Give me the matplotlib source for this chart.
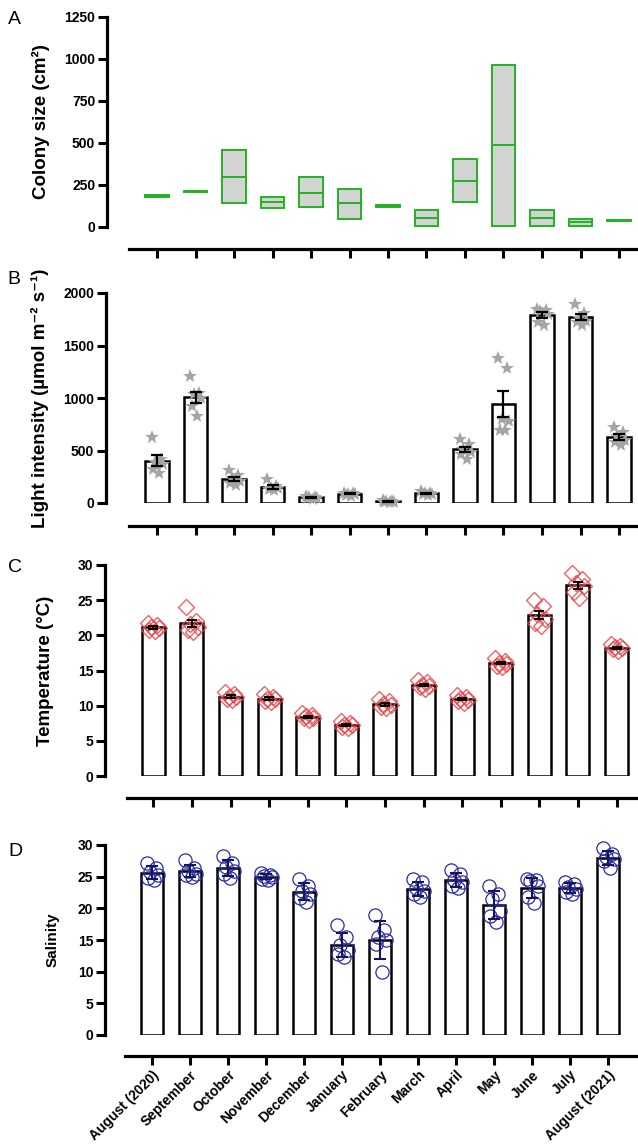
import numpy as np
import matplotlib.pyplot as plt

# months on the x axis
months = ['August (2020)', 'September', 'October', 'November', 'December',
          'January', 'February', 'March', 'April', 'May', 'June', 'July',
          'August (2021)']

# A: colony size, floating bars (min to max, line at mean)
size_min = [180, 209, 140, 115, 117, 45, 118, 8, 147, 8, 8, 8, 36]
size_mid = [184, 212, 299, 147, 204, 143, 125, 52, 274, 490, 52, 30, 40]
size_max = [188, 215, 460, 177, 295, 228, 132, 101, 403, 965, 101, 48, 44]

# B: light intensity (umol m-2 s-1), replicate readings
light = [
    [630, 420, 395, 370, 320, 285],
    [1210, 1050, 1040, 1000, 920, 830],
    [310, 265, 240, 210, 190, 175],
    [230, 160, 145, 140, 130, 120],
    [70, 60, 55, 50, 45, 40],
    [100, 95, 90, 85, 75, 70],
    [25, 20, 15, 12, 10, 8],
    [110, 100, 95, 90, 85, 75],
    [610, 560, 510, 490, 470, 420],
    [1380, 1290, 800, 780, 700, 700],
    [1850, 1840, 1830, 1800, 1720, 1700],
    [1900, 1810, 1760, 1730, 1720, 1700],
    [720, 680, 640, 600, 580, 550],
]

# C: temperature (deg C)
temp = [
    [21.8, 21.4, 21.2, 21.0, 20.8, 20.6],
    [24.0, 22.0, 21.6, 21.2, 20.8, 20.5],
    [11.9, 11.6, 11.3, 11.2, 11.0, 10.8],
    [11.6, 11.3, 11.0, 10.9, 10.7, 10.5],
    [9.0, 8.7, 8.5, 8.3, 8.2, 8.0],
    [7.8, 7.5, 7.3, 7.2, 7.0, 6.8],
    [11.0, 10.6, 10.3, 10.1, 9.8, 9.6],
    [13.6, 13.3, 13.0, 12.8, 12.6, 12.4],
    [11.5, 11.2, 11.0, 10.8, 10.6, 10.4],
    [16.8, 16.4, 16.1, 15.9, 15.7, 15.5],
    [25.0, 24.2, 23.0, 22.3, 21.8, 21.3],
    [28.8, 28.0, 27.5, 27.0, 26.2, 25.3],
    [18.8, 18.5, 18.3, 18.2, 18.0, 17.8],
]

# D: salinity
sal = [
    [27.2, 26.3, 25.8, 25.2, 24.8, 24.5],
    [27.6, 26.4, 25.9, 25.5, 25.3, 25.0],
    [28.2, 27.2, 26.5, 25.9, 25.4, 24.8],
    [25.6, 25.3, 25.1, 24.9, 24.7, 24.5],
    [24.6, 23.6, 22.8, 22.2, 21.6, 21.0],
    [17.4, 15.4, 14.2, 13.4, 12.8, 12.3],
    [18.9, 16.6, 15.5, 15.0, 14.4, 9.9],
    [24.6, 24.1, 23.2, 22.7, 22.2, 21.8],
    [26.0, 25.4, 24.5, 24.1, 23.6, 23.2],
    [23.6, 22.2, 21.4, 19.6, 18.8, 17.8],
    [24.6, 24.4, 24.3, 23.6, 21.8, 20.8],
    [24.2, 23.8, 23.4, 23.0, 22.6, 22.2],
    [29.6, 28.6, 28.1, 27.8, 27.4, 26.3],
]

W, H = 638, 1144
plt.rcParams['font.family'] = ['Liberation Sans', 'DejaVu Sans']
plt.rcParams['font.weight'] = 'bold'

fig = plt.figure(figsize=(W / 100, H / 100), dpi=100)
x = np.arange(len(months))
jit = np.array([-0.14, 0.10, -0.05, 0.15, -0.10, 0.04])
bw = 0.6


def make_ax(x0, x1, ytop, y0, spine_x, xline_y, first, step, ymax, ystep):
    ax = fig.add_axes([x0 / W, 1 - y0 / H, (x1 - x0) / W, (y0 - ytop) / H])
    ax.set_xlim((x0 - first) / step, (x1 - first) / step)
    ax.set_ylim(0, ymax)
    ax.set_yticks(np.arange(0, ymax + 1e-9, ystep))
    ax.set_xticks(x)
    ax.set_xticklabels([])
    for s in ['top', 'right']:
        ax.spines[s].set_visible(False)
    for s in ['left', 'bottom']:
        ax.spines[s].set_linewidth(2.3)
    ax.spines['left'].set_position(('outward', (x0 - spine_x) * 0.72))
    ax.spines['bottom'].set_position(('outward', (xline_y - y0) * 0.72))
    ax.tick_params(width=2.2, length=6.5, labelsize=10, pad=2)
    for t in ax.get_yticklabels():
        t.set_fontweight('bold')
    return ax


def px(xp, yp):
    return xp / W, 1 - yp / H


# ---- A ----
axA = make_ax(129, 638, 17, 227, 107, 249, 157, 38.5, 1250, 250)
green = '#22B322'
hgt = np.array(size_max) - np.array(size_min)
axA.bar(x, hgt, bw, bottom=size_min, facecolor='#D3D3D3', edgecolor=green, linewidth=1.4)
axA.hlines(size_mid, x - bw / 2, x + bw / 2, color=green, linewidth=1.4)

# ---- B ----
axB = make_ax(129, 638, 293, 503, 106, 526, 157, 38.5, 2000, 500)
lm = [np.mean(v) for v in light]
le = [np.std(v, ddof=1) / np.sqrt(len(v)) for v in light]
axB.bar(x, lm, bw, color='white', edgecolor='black', linewidth=1.8, zorder=1)
for i, v in enumerate(light):
    axB.plot(i + jit, v, '*', color='#A5A5A5', markersize=10, markeredgewidth=0,
             zorder=2, clip_on=False)
axB.errorbar(x, lm, yerr=le, fmt='none', ecolor='black', elinewidth=1.6,
             capsize=4, capthick=1.6, zorder=3)

# ---- C ----
axC = make_ax(127, 638, 565, 776, 105, 798, 153.3, 38.6, 30, 5)
tm = [np.mean(v) for v in temp]
te = [np.std(v, ddof=1) / np.sqrt(len(v)) for v in temp]
axC.bar(x, tm, bw, color='white', edgecolor='black', linewidth=1.8, zorder=1)
for i, v in enumerate(temp):
    axC.plot(i + jit, v, 'D', markerfacecolor='none', markeredgecolor='#E5484D',
             markersize=8, markeredgewidth=1.0, alpha=0.85, zorder=2, clip_on=False)
axC.errorbar(x, tm, yerr=te, fmt='none', ecolor='black', elinewidth=1.4,
             capsize=3.5, capthick=1.4, zorder=3)

# ---- D ----
axD = make_ax(125, 636, 845, 1035, 105, 1056, 152, 38, 30, 5)
sm = [np.mean(v) for v in sal]
sd = [np.std(v, ddof=1) for v in sal]
axD.bar(x, sm, bw, color='white', edgecolor='black', linewidth=1.8, zorder=1)
for i, v in enumerate(sal):
    axD.plot(i + jit, v, 'o', markerfacecolor='none', markeredgecolor='#2B2BA6',
             markersize=9.5, markeredgewidth=0.9, zorder=2, clip_on=False)
axD.errorbar(x, sm, yerr=sd, fmt='none', ecolor='#15155A', elinewidth=1.5,
             capsize=4, capthick=1.5, zorder=3)
axD.set_xticklabels(months, rotation=45, ha='right', rotation_mode='anchor',
                    fontsize=10, fontweight='bold')

# panel letters
for lab, (lx, ly) in zip('ABCD', [(14, 20), (14, 279), (15, 568), (15, 852)]):
    fig.text(*px(lx, ly), lab, fontsize=14, fontweight='normal', ha='center', va='center')

# axis titles
fig.text(*px(41, 122), 'Colony size (cm²)', rotation=90, fontsize=13.5,
         fontweight='bold', ha='center', va='center')
fig.text(*px(40, 398), 'Light intensity (µmol m⁻² s⁻¹)', rotation=90, fontsize=13.5,
         fontweight='bold', ha='center', va='center')
fig.text(*px(46, 671), 'Temperature (°C)', rotation=90, fontsize=13.5,
         fontweight='bold', ha='center', va='center')
fig.text(*px(53, 940), 'Salinity', rotation=90, fontsize=11,
         fontweight='bold', ha='center', va='center')

fig.savefig('out.png', dpi=100)
